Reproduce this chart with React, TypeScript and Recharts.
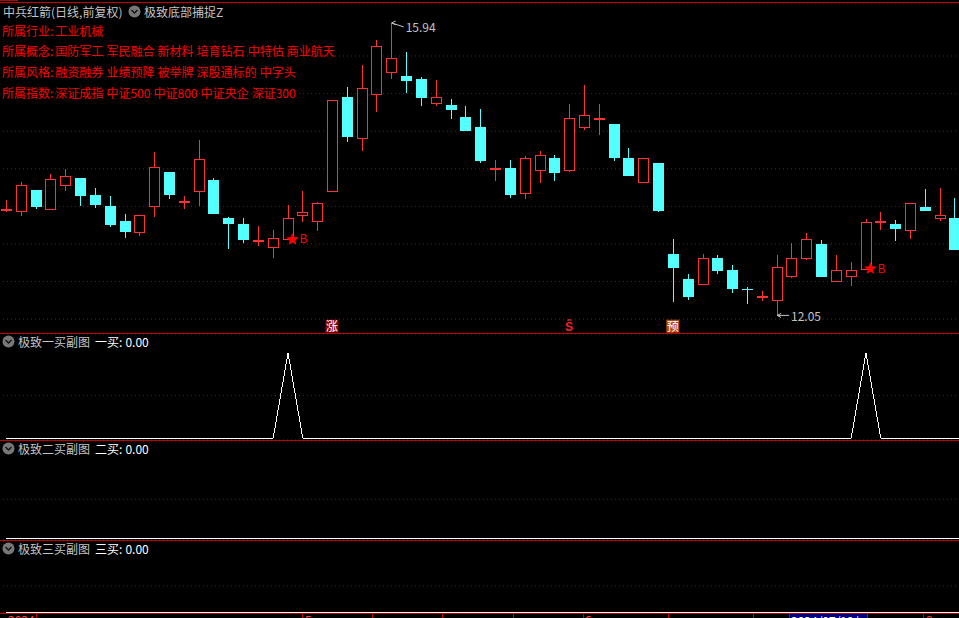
import * as React from "react";

import {
  Bar,
  CartesianGrid,
  ComposedChart,
  Line,
  ReferenceDot,
  XAxis,
  YAxis,
} from "recharts";

/// 日线 OHLC（图上读数）
const opens = [
  13.44, 13.44, 13.72, 13.46, 13.79, 13.88, 13.65, 13.5, 13.31, 13.16, 13.5, 13.96, 13.55,
  13.7, 13.85, 13.35, 13.27, 13.03, 12.96, 13.06, 13.39, 13.3, 13.71, 14.96, 14.41, 14.99,
  15.29, 15.23, 15.19, 14.87, 14.85, 14.69, 14.56, 13.98, 14.01, 13.68, 13.99, 14.14, 13.99,
  14.56, 14.65, 14.6, 14.14, 13.83, 14.08, 12.87, 12.53, 12.47, 12.81, 12.65, 12.4, 12.28,
  12.25, 12.58, 12.82, 13.0, 12.51, 12.58, 12.67, 13.28, 13.27, 13.19, 13.49, 13.34, 13.35,
];
const highs = [
  13.59, 13.83, 13.72, 13.93, 14.0, 13.88, 13.74, 13.64, 13.4, 13.38, 14.22, 13.96, 13.64,
  14.38, 13.88, 13.36, 13.35, 13.24, 13.19, 13.52, 13.7, 13.56, 14.91, 15.09, 15.38, 15.71,
  15.94, 15.55, 15.22, 15.18, 14.93, 14.84, 14.8, 14.12, 14.12, 14.17, 14.24, 14.18, 14.86,
  15.11, 14.86, 14.6, 14.28, 14.14, 14.08, 13.07, 12.6, 12.87, 12.85, 12.72, 12.43, 12.37,
  12.85, 13.01, 13.15, 13.05, 12.85, 12.76, 13.33, 13.43, 13.32, 13.54, 13.73, 13.74, 13.61,
];
const lows = [
  13.43, 13.37, 13.47, 13.46, 13.7, 13.5, 13.48, 13.23, 13.08, 13.11, 13.36, 13.6, 13.47,
  13.5, 13.4, 12.93, 13.01, 12.97, 12.81, 13.06, 13.29, 13.17, 13.69, 14.36, 14.24, 14.76,
  15.19, 15.01, 14.84, 14.84, 14.66, 14.5, 14.08, 13.84, 13.61, 13.6, 13.81, 13.84, 13.96,
  14.52, 14.45, 14.1, 13.9, 13.83, 13.42, 12.23, 12.26, 12.47, 12.6, 12.35, 12.2, 12.24,
  12.05, 12.55, 12.79, 12.57, 12.49, 12.44, 12.67, 13.19, 13.04, 13.07, 13.44, 13.31, 12.93,
];
const closes = [
  13.46, 13.79, 13.5, 13.87, 13.91, 13.65, 13.53, 13.27, 13.17, 13.38, 14.02, 13.66, 13.57,
  14.13, 13.41, 13.28, 13.07, 13.05, 13.08, 13.34, 13.43, 13.54, 14.91, 14.44, 15.08, 15.63,
  15.47, 15.18, 14.96, 14.96, 14.8, 14.52, 14.12, 14.01, 13.66, 14.14, 14.19, 13.96, 14.67,
  14.72, 14.68, 14.16, 13.92, 14.14, 13.45, 12.7, 12.31, 12.81, 12.65, 12.41, 12.39, 12.31,
  12.7, 12.82, 13.06, 12.57, 12.65, 12.66, 13.29, 13.31, 13.21, 13.54, 13.45, 13.38, 12.93,
];

/// 副图信号（末尾多一根，线画到右边缘）
const buyOne = [
  0, 0, 0, 0, 0, 0, 0, 0, 0, 0, 0, 0, 0,
  0, 0, 0, 0, 0, 0, 1, 0, 0, 0, 0, 0, 0,
  0, 0, 0, 0, 0, 0, 0, 0, 0, 0, 0, 0, 0,
  0, 0, 0, 0, 0, 0, 0, 0, 0, 0, 0, 0, 0,
  0, 0, 0, 0, 0, 0, 1, 0, 0, 0, 0, 0, 0, 0,
];
const buyTwo = [
  0, 0, 0, 0, 0, 0, 0, 0, 0, 0, 0, 0, 0,
  0, 0, 0, 0, 0, 0, 0, 0, 0, 0, 0, 0, 0,
  0, 0, 0, 0, 0, 0, 0, 0, 0, 0, 0, 0, 0,
  0, 0, 0, 0, 0, 0, 0, 0, 0, 0, 0, 0, 0,
  0, 0, 0, 0, 0, 0, 0, 0, 0, 0, 0, 0, 0, 0,
];
const buyThree = [...buyTwo];

const priceTicks = [12, 12.5, 13, 13.5, 14, 14.5, 15, 15.5];
const infoLines = [
  ["所属行业", "工业机械"],
  ["所属概念", "国防军工 军民融合 新材料 培育钻石 中特估 商业航天"],
  ["所属风格", "融资融券 业绩预降 被举牌 深股通标的 中字头"],
  ["所属指数", "深证成指 中证500 中证800 中证央企 深证300"],
];
const buySignals = [
  { i: 19, price: 13.06 },
  { i: 58, price: 12.67 },
];
const axisTicks = [36, 302, 372, 442, 513, 583, 668, 753, 789, 867, 923];
const axisLabels = [
  { x: 8, text: "2024" },
  { x: 305, text: "5" },
  { x: 585, text: "6" },
  { x: 926, text: "8" },
];

const rows = opens.map((open, i) => ({
  i,
  open,
  high: highs[i],
  low: lows[i],
  close: closes[i],
  range: [lows[i], highs[i]],
}));
const subRows = buyOne.map((v, i) => ({
  i,
  buyOne: v,
  buyTwo: buyTwo[i],
  buyThree: buyThree[i],
}));

const RED = "#ff3232";
const CYAN = "#54ffff";
const GRID = "#a80000";
const LINE_RED = "#c00000";
const GREY = "#c4c4c4";
const FONT = '"Noto Sans CJK SC", sans-serif';
const CHART_WIDTH = 963.3;
const SUB_WIDTH = 978.12;
const CHART_LEFT = -1.41;

function Candle(props: any) {
  const { x, y, width, height, payload } = props;
  const { open, high, low, close } = payload;
  const k = height / (high - low);
  const cx = Math.floor(x + width / 2) + 0.5;
  const up = close >= open;
  const color = up ? RED : CYAN;
  const top = Math.round(y + (high - Math.max(open, close)) * k);
  const bottom = Math.round(y + (high - Math.min(open, close)) * k);
  const thin = Math.abs(close - open) * k < 2.4;
  return (
    <g shapeRendering="crispEdges">
      <line x1={cx} x2={cx} y1={y} y2={y + height} stroke={color} />
      {thin ? (
        <rect x={cx - 5.5} y={top} width={11} height={up ? 2 : 1} fill={color} />
      ) : up ? (
        <rect x={cx - 5} y={top + 0.5} width={10} height={bottom - top} fill="#000" stroke={color} />
      ) : (
        <rect x={cx - 5.5} y={top} width={11} height={bottom - top + 1} fill={color} />
      )}
    </g>
  );
}

function PriceFlag({ cx, cy, label, dy }: any) {
  return (
    <g>
      <path
        d={`M${cx + 4} ${cy - 2}L${cx} ${cy}L${cx + 4} ${cy + 2}M${cx} ${cy}L${cx + 12} ${cy + (dy > 2 ? 4 : 0)}`}
        stroke={GREY}
        fill="none"
      />
      <text x={cx + 14} y={cy + dy + 4} fill={GREY} fontSize={12} fontFamily={FONT}>
        {label}
      </text>
    </g>
  );
}

function BuyStar({ cx, cy }: any) {
  const sx = cx + 4.5;
  const pts: string[] = [];
  for (let n = 0; n < 10; n++) {
    const r = n % 2 === 0 ? 6.5 : 3;
    const a = -Math.PI / 2 + (n * Math.PI) / 5;
    pts.push(`${sx + r * Math.cos(a)},${cy + r * Math.sin(a)}`);
  }
  return (
    <g>
      <polygon points={pts.join(" ")} fill="#ff0000" />
      <text x={sx + 7} y={cy + 4} fill="#ff0000" fontSize={12} fontFamily={FONT}>
        B
      </text>
    </g>
  );
}

function TagMark({ cx, cy, text, bg }: any) {
  return (
    <g>
      {bg ? <rect x={cx - 7} y={cy - 7} width={13} height={13} fill={bg} /> : null}
      <text
        x={cx - 0.5}
        y={cy + 4}
        textAnchor="middle"
        fill={bg ? "#fff" : "#ff2020"}
        fontSize={12}
        fontWeight={bg ? 400 : 700}
        fontFamily={FONT}
      >
        {text}
      </text>
    </g>
  );
}

function MainChart() {
  return (
    <div style={{ position: "absolute", left: CHART_LEFT, top: 3 }}>
      <ComposedChart width={CHART_WIDTH} height={330} data={rows} margin={{ top: 0, right: 0, bottom: 0, left: 0 }}>
        <CartesianGrid horizontal vertical={false} stroke={GRID} strokeDasharray="1 3" />
        <XAxis dataKey="i" hide />
        <YAxis hide domain={[11.816, 16.205]} ticks={priceTicks} allowDataOverflow />
        <Bar dataKey="range" barSize={11} shape={Candle} isAnimationActive={false} />
        {buySignals.map((s) => (
          <ReferenceDot key={s.i} x={s.i} y={s.price} ifOverflow="visible" shape={(p: any) => <BuyStar {...p} />} />
        ))}
        <ReferenceDot x={26} y={15.94} ifOverflow="visible" shape={(p: any) => <PriceFlag {...p} label="15.94" dy={5} />} />
        <ReferenceDot x={52} y={12.05} ifOverflow="visible" shape={(p: any) => <PriceFlag {...p} label="12.05" dy={2} />} />
        <ReferenceDot x={22} y={11.9} ifOverflow="visible" shape={(p: any) => <TagMark {...p} text="涨" bg="#8c0808" />} />
        <ReferenceDot x={38} y={11.9} ifOverflow="visible" shape={(p: any) => <TagMark {...p} text="Ŝ" />} />
        <ReferenceDot x={45} y={11.9} ifOverflow="visible" shape={(p: any) => <TagMark {...p} text="预" bg="#b8480c" />} />
      </ComposedChart>
    </div>
  );
}

function Chevron({ x, y }: { x: number; y: number }) {
  return (
    <svg width={13} height={13} style={{ position: "absolute", left: x, top: y }}>
      <circle cx={6.5} cy={6.5} r={6} fill="#787878" />
      <path d="M3.5 5L6.5 8L9.5 5" fill="none" stroke="#161616" strokeWidth={1.5} />
    </svg>
  );
}

function Label({ x, y, color, children }: { x: number; y: number; color: string; children: React.ReactNode }) {
  return (
    <div
      style={{
        position: "absolute",
        left: x,
        top: y - 7,
        height: 14,
        lineHeight: "14px",
        fontSize: 12,
        fontFamily: FONT,
        color,
        whiteSpace: "nowrap",
        wordSpacing: 0.4,
      }}
    >
      {children}
    </div>
  );
}

function SubPanel(props: {
  top: number;
  height: number;
  dataKey: string;
  domain: [number, number];
  title: string;
  value: string;
  titleY: number;
}) {
  const { top, height, dataKey, domain, title, value, titleY } = props;
  return (
    <>
      <div style={{ position: "absolute", left: CHART_LEFT, top }}>
        <ComposedChart width={SUB_WIDTH} height={height} data={subRows} margin={{ top: 0, right: 0, bottom: 0, left: 0 }}>
          <CartesianGrid horizontal vertical={false} stroke={GRID} strokeDasharray="1 3" />
          <XAxis dataKey="i" hide scale="band" />
          <YAxis hide domain={domain} ticks={[0.5]} allowDataOverflow />
          <Line
            dataKey={dataKey}
            stroke="#ffffff"
            strokeWidth={1}
            dot={false}
            shapeRendering="crispEdges"
            isAnimationActive={false}
          />
        </ComposedChart>
      </div>
      <div style={{ position: "absolute", left: 0, top: top + height, width: 959, height: 1, background: LINE_RED }} />
      <Chevron x={2} y={titleY - 7} />
      <Label x={18} y={titleY} color={GREY}>
        {title}
      </Label>
      <Label x={95} y={titleY} color="#ffffff">
        {value}
      </Label>
    </>
  );
}

function BottomAxis() {
  return (
    <>
      <div style={{ position: "absolute", left: 0, top: 613, width: 959, height: 1, background: LINE_RED }} />
      <div
        style={{
          position: "absolute",
          left: 789,
          top: 614,
          width: 78,
          height: 14,
          background: "#000080",
          color: "#fff",
          fontSize: 12,
          lineHeight: "14px",
          fontFamily: FONT,
          paddingLeft: 2,
          boxSizing: "border-box",
        }}
      >
        2024/07/19/五
      </div>
      {axisTicks.map((x) => (
        <div key={x} style={{ position: "absolute", left: x, top: 613, width: 1, height: 5, background: LINE_RED }} />
      ))}
      {axisLabels.map((l) => (
        <div
          key={l.x}
          style={{
            position: "absolute",
            left: l.x,
            top: 613,
            color: "#ff4040",
            fontSize: 12,
            lineHeight: "14px",
            fontFamily: FONT,
          }}
        >
          {l.text}
        </div>
      ))}
    </>
  );
}

export default function App() {
  return (
    <div
      style={{
        position: "fixed",
        left: 0,
        top: 0,
        width: 959,
        height: 618,
        overflow: "hidden",
        background: "#000",
      }}
    >
      <div style={{ position: "absolute", left: 0, top: 2, width: 959, height: 1, background: LINE_RED }} />
      <div style={{ position: "absolute", left: 0, top: 0, width: 18, height: 1, background: LINE_RED }} />
      <MainChart />
      <div style={{ position: "absolute", left: 0, top: 333, width: 959, height: 1, background: LINE_RED }} />
      <Label x={3} y={12} color={GREY}>
        中兵红箭(日线,前复权)
      </Label>
      <Chevron x={128} y={5} />
      <Label x={144} y={12} color={GREY}>
        极致底部捕捉Z
      </Label>
      {infoLines.map(([head, items], n) => (
        <Label key={head} x={2} y={[31, 51, 72, 93][n]} color="#ff0000">
          {head}
          <span style={{ marginRight: 2 }}>:</span>
          {items}
        </Label>
      ))}
      <SubPanel top={334} height={106} dataKey="buyOne" domain={[-0.02, 1.221]} title="极致一买副图" value="一买: 0.00" titleY={342} />
      <SubPanel top={441} height={99} dataKey="buyTwo" domain={[-0.022, 1.247]} title="极致二买副图" value="二买: 0.00" titleY={449} />
      <SubPanel top={541} height={72} dataKey="buyThree" domain={[-0.013, 1.355]} title="极致三买副图" value="三买: 0.00" titleY={549} />
      <BottomAxis />
    </div>
  );
}
